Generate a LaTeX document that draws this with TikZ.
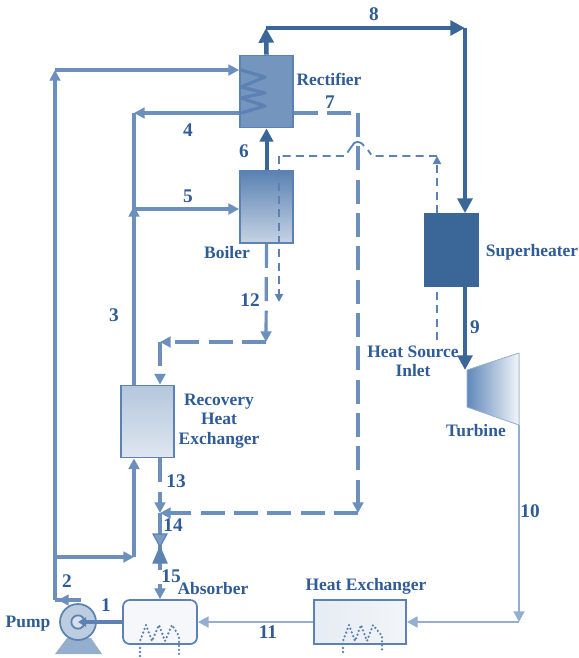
\documentclass[tikz,border=0pt]{standalone}
\usepackage{fontspec}
\setmainfont{Liberation Serif}
\usetikzlibrary{arrows.meta}
\definecolor{txt}{HTML}{2F5C96}
\definecolor{main}{HTML}{5B82B2}
\definecolor{soft}{HTML}{6C8FBB}
\definecolor{deep}{HTML}{3A6698}
\definecolor{pale}{HTML}{94AECF}
\tikzset{
 x=.75pt,y=-.75pt,
 lbl/.style={font=\fontsize{13.1}{14.5}\selectfont\bfseries,text=txt,align=center,inner sep=0},
 num/.style={font=\fontsize{14.5}{15}\selectfont\bfseries,text=txt,inner sep=0},
 vessel/.style={draw=main,line width=1.3pt,minimum width=39.75pt,minimum height=54pt,inner sep=0},
 pipe/.style={draw=soft,line width=2.5pt,-{Triangle[length=8pt,width=8pt]}},
 bare/.style={draw=soft,line width=2.5pt},
 heavy/.style={draw=deep,line width=3.4pt,-{Triangle[length=11pt,width=11pt]}},
 thin pipe/.style={draw=pale,line width=2pt,-{Triangle[length=8pt,width=8pt]}},
 longdash/.style={draw=soft,line width=2.4pt,dash pattern=on 18pt off 7pt,-{Triangle[length=8pt,width=8pt]}},
 shortdash/.style={draw=main,line width=1.4pt,dash pattern=on 6pt off 4pt},
 coil/.style={draw=main,line width=1.9pt,line cap=round,dash pattern=on 0pt off 3pt},
}
\begin{document}
\begin{tikzpicture}
\useasboundingbox (0,0) rectangle (579,658);
% named way points
\coordinate (topA) at (266,28);
\coordinate (topB) at (465,28);
\coordinate (leftTop) at (55,70);
\coordinate (leftBot) at (55,600);
\coordinate (leftMid) at (55,557);
\coordinate (midCor) at (134,557);
\coordinate (l3top) at (134,113);
\coordinate (l3mid) at (134,209);
\coordinate (c7a) at (358,113);
\coordinate (c7b) at (358,513);
\coordinate (c14) at (160,513);
\coordinate (c12a) at (266,342);
\coordinate (c12b) at (160,342);
\coordinate (h1) at (437,156);
\coordinate (h2) at (372,156);
\coordinate (h3) at (345,156);
\coordinate (h4) at (279,156);
\coordinate (h5) at (279,302);
\coordinate (h6) at (437,340);
\coordinate (c10) at (519,622);
\coordinate (tin) at (467,370);
\coordinate (tout) at (519,425);
% vessels
\node[vessel,fill=main!85!white] (rect) at (266.5,91.5) {};
\node[vessel,top color=main,bottom color=main!35!white] (boil) at (266.5,207) {};
\node[vessel,fill=deep,draw=deep] (sup) at (451.5,250) {};
\node[vessel,top color=main!45!white,bottom color=main!20!white] (rec) at (147.5,421.5) {};
\node[draw=main,line width=1.3pt,rounded corners=5pt,fill=main!6!white,minimum width=55.5pt,minimum height=33pt,inner sep=0] (abs) at (160,622) {};
\node[draw=main,line width=1.3pt,left color=main!15!white,right color=main!8!white,minimum width=69pt,minimum height=33pt,inner sep=0] (hx) at (360,622) {};
% turbine
\fill[left color=main!105!black,right color=main!8!white,draw=main!60!white,line width=.6pt] (tin) -- (519,353) -- (tout) -- (467,407) -- cycle;
% pump
\fill[main!65!white] (55,654) -- (67,638) -- (91,638) -- (102,654) -- cycle;
\node[circle,draw=main,line width=1.3pt,fill=main!40!white,minimum size=27pt,inner sep=0] (pump) at (78,622) {};
\node[circle,draw=main,line width=1.3pt,fill=main!25!white,minimum size=10pt,inner sep=0] (eye) at (78,622) {};
% zigzag
\draw[main,line width=2.4pt,line join=round] (241,70) -- (265,77) -- (241,87) -- (265,93) -- (241,98) -- (265,106) -- (241,113);
% main connections
\draw[bare] (81,600) -- (leftBot);
\draw[pipe] (81,600) -- (58,600);
\draw[pipe] (leftBot) -- (55,70);
\draw[pipe] (leftTop) -- (rect.west |- leftTop);
\draw[pipe] (leftMid) -- (midCor);
\draw[pipe] (midCor) -- (rec.south -| midCor);
\draw[pipe] (rect.west |- l3top) -- (l3top);
\draw[bare] (rec.north -| l3top) -- (l3top);
\draw[pipe] (rec.north -| l3mid) -- (134,206);
\draw[pipe] (l3mid) -- (boil.west |- l3mid);
% heavy
\draw[draw=deep,line width=3pt,-{Triangle[length=10pt,width=10pt]}] (boil.north) -- (rect.south);
\draw[heavy] (rect.north) -- (topA);
\draw[heavy] (topA) -- (topB);
\draw[heavy] (topB) -- (sup.north -| topB);
\draw[heavy] (sup.south -| topB) -- (tin -| topB);
% light
\draw[thin pipe] (tout) -- (c10);
\draw[thin pipe] (c10) -- (hx.east |- c10);
\draw[thin pipe] (hx.west) -- (abs.east);
\draw[draw=main,line width=3pt,-{Triangle[length=6pt,width=7pt]}] (abs.west) -- (eye.center);
% long dashed
\draw[longdash,-] (rect.east |- c7a) -- (c7a);
\draw[longdash] (c7a) -- (c7b);
\draw[longdash] (c7b) -- (c14);
\draw[longdash] (boil.south) -- (c12a);
\draw[longdash] (c12a) -- (c12b);
\draw[longdash] (c12b) -- (rec.north -| c12b);
\draw[longdash] (rec.south -| c12b) -- (c14);
% valve and lower line
\coordinate (v) at (160,547);
\coordinate (v2) at (160,570);
\coordinate (v3) at (160,584);
\draw[bare] (c14) -- (v2);
\draw[pipe] (v3) -- (abs.north -| v);
\draw[draw=main,fill=main!80!white,line width=.8pt] (153,534) -- (167,534) -- (v) -- cycle;
\draw[draw=main,fill=main,line width=.8pt] (153,563) -- (167,563) -- (v) -- cycle;
% heat source
\draw[shortdash] (h6) -- (sup.south -| h6);
\draw[shortdash,-{Triangle[length=6pt,width=6pt]}] (sup.north -| h1) -- (h1);
\draw[shortdash] (h1) -- (h2) -- (368,150);
\draw[draw=main,line width=1.4pt] (364,146) .. controls (360,140) and (354,141) .. (352,146);
\draw[shortdash] (352,146) -- (h3) -- (h4);
\draw[shortdash,-{Triangle[length=6pt,width=6pt]}] (h4) -- (h5);
% coils
\draw[coil] (140,656) -- (140,641) -- (146,625) -- (152,641) -- (159,625) -- (165,641) -- (172,625) -- (179,636) -- (179,656);
\draw[coil] (343,652) -- (343,641) -- (349,625) -- (355,641) -- (361,625) -- (367,641) -- (373,625) -- (382,636) -- (382,652);
% labels
\node[lbl] (tRect) at (329,79) {Rectifier};
\node[lbl] (tBoil) at (227,253) {Boiler};
\node[lbl] (tSup) at (532,252) {Superheater};
\node[lbl] (tRec) at (219,421) {Recovery\\Heat\\Exchanger};
\node[lbl] (tHeat) at (413,361) {Heat Source\\Inlet};
\node[lbl] (tTurb) at (476,431) {Turbine};
\node[lbl] (tAbs) at (213,589) {Absorber};
\node[lbl] (tHx) at (366,586) {Heat Exchanger};
\node[lbl] (tPump) at (28,624) {Pump};
\node[num] (n1) at (106,605) {1};
\node[num] (n2) at (67,581) {2};
\node[num] (n3) at (114,315) {3};
\node[num] (n4) at (188,130) {4};
\node[num] (n5) at (188,196) {5};
\node[num] (n6) at (244,151) {6};
\node[num] (n7) at (330,102) {7};
\node[num] (n8) at (374,14) {8};
\node[num] (n9) at (475,327) {9};
\node[num] (n10) at (530,511) {10};
\node[num] (n11) at (268,632) {11};
\node[num] (n12) at (250,300) {12};
\node[num] (n13) at (176,481) {13};
\node[num] (n14) at (173,525) {14};
\node[num] (n15) at (171,576) {15};
\end{tikzpicture}
\end{document}
